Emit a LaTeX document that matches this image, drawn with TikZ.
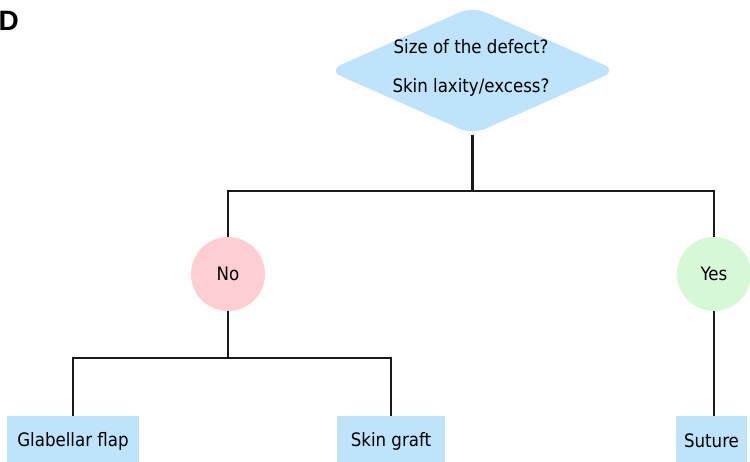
\documentclass[tikz,border=0pt]{standalone}
\usepackage{fontspec}
\setmainfont{DejaVu Sans Condensed}
\newfontfamily\panelfont{Liberation Sans}
\usetikzlibrary{shapes.geometric}
\definecolor{qblue}{HTML}{BEE3FA}
\definecolor{nopink}{HTML}{FFCED3}
\definecolor{yesgreen}{HTML}{D6F8D7}
\definecolor{boxblue}{HTML}{BEE3FA}
\tikzset{
  decision/.style={diamond, fill=qblue, draw=none, rounded corners=14pt,
    minimum width=289pt, minimum height=128pt, inner sep=0pt},
  qtext/.style={align=center, font=\fontsize{18.5}{39}\selectfont, inner sep=0pt},
  answer/.style={circle, minimum size=74pt, inner sep=0pt, draw=none,
    font=\fontsize{18.5}{22}\selectfont},
  option/.style={rectangle, fill=boxblue, draw=none, minimum height=50pt,
    inner sep=0pt, font=\fontsize{18.5}{22}\selectfont},
  link/.style={line width=2.1pt, black!90}
}
\begin{document}
\begin{tikzpicture}[x=1pt, y=-1pt]
  \useasboundingbox (0,0) rectangle (750,461);
  \clip (0,0) rectangle (750,461);

  % panel letter
  \node[anchor=north west, inner sep=0pt, font=\panelfont\bfseries\fontsize{28}{30}\selectfont] (panel) at (-1.5,11) {D};

  % decision
  \node[decision] (q) at (472.5,70.5) {};
  \node[qtext] (qt) at (471,67.5) {Size of the defect?\\Skin laxity/excess?};

  % answers
  \node[answer, fill=nopink] (no) at (228,274) {No};
  \node[answer, fill=yesgreen] (yes) at (714,274) {Yes};

  % options
  \node[option, minimum width=132pt] (glab) at (73,441) {Glabellar flap};
  \node[option, minimum width=108pt] (graft) at (391,441) {Skin graft};
  \node[option, minimum width=71pt] (suture) at (711.5,441) {Suture};

  % junctions
  \coordinate (j1) at (472.5,191);
  \coordinate (j2) at (228,358);

  % connectors
  \draw[link] (q.south) -- (j1);
  \draw[link] (no.north) |- (j1) -| (yes.north);
  \draw[link] (no.south) -- (j2);
  \draw[link] (glab.north) |- (j2) -| (graft.north);
  \draw[link] (yes.south) -- (yes.south |- suture.north);
\end{tikzpicture}
\end{document}
